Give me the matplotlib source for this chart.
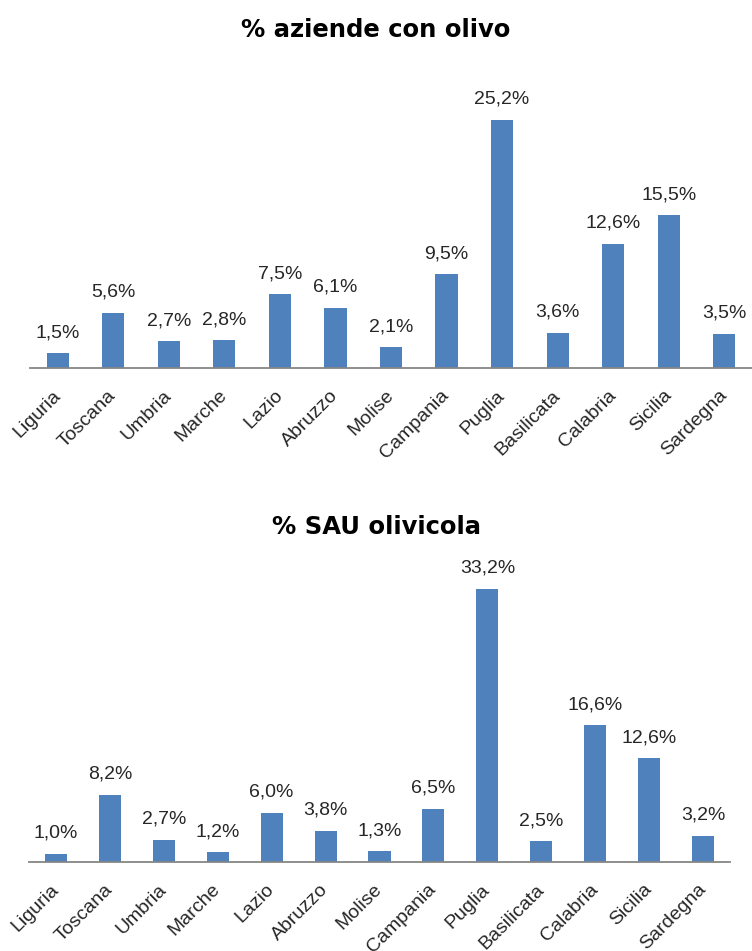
import matplotlib.pyplot as plt

regions = ["Liguria", "Toscana", "Umbria", "Marche", "Lazio", "Abruzzo", "Molise",
           "Campania", "Puglia", "Basilicata", "Calabria", "Sicilia", "Sardegna"]
aziende = [1.5, 5.6, 2.7, 2.8, 7.5, 6.1, 2.1, 9.5, 25.2, 3.6, 12.6, 15.5, 3.5]
sau = [1.0, 8.2, 2.7, 1.2, 6.0, 3.8, 1.3, 6.5, 33.2, 2.5, 16.6, 12.6, 3.2]

title_top = "% aziende con olivo"
title_bottom = "% SAU olivicola"

BAR = "#4F81BD"
AXIS = "#868686"
TEXT = "#262626"
FONT = ["Liberation Sans", "DejaVu Sans"]

W, H = 752, 951
fig = plt.figure(figsize=(W / 100, H / 100), dpi=100)


def px_axes(left, right, top, bottom):
    return fig.add_axes([left / W, (H - bottom) / H, (right - left) / W, (bottom - top) / H])


def draw(ax, values, ymax, title, title_y, width):
    x = range(len(regions))
    ax.bar(x, values, width=width, color=BAR, zorder=2)
    ax.set_xlim(-0.5, len(regions) - 0.5)
    ax.set_ylim(0, ymax)
    for s in ("top", "right", "left"):
        ax.spines[s].set_visible(False)
    ax.spines["bottom"].set_color(AXIS)
    ax.spines["bottom"].set_linewidth(1.3)
    ax.set_yticks([])
    ax.set_xticks(list(x))
    ax.set_xticklabels(regions, rotation=45, ha="right", va="center",
                       rotation_mode="anchor", fontsize=14, family=FONT,
                       color=TEXT)
    ax.tick_params(axis="x", length=0, pad=18)
    for i, v in enumerate(values):
        ax.annotate(f"{v:.1f}%".replace(".", ","), (i, v), xytext=(0, 11.5),
                    textcoords="offset points", ha="center", va="baseline",
                    fontsize=14, family=FONT, color=TEXT)
    fig.text(0.5, 1 - title_y / H, title, ha="center", va="center",
             fontsize=17.5, fontweight="bold", family="DejaVu Sans", color="black")


ax1 = px_axes(30, 752, 100, 368)
draw(ax1, aziende, 27.2, title_top, 30, 0.4)

ax2 = px_axes(29, 730, 565, 862)
draw(ax2, sau, 36.1, title_bottom, 527, 0.41)

fig.savefig("out.png", dpi=100, facecolor="white")
